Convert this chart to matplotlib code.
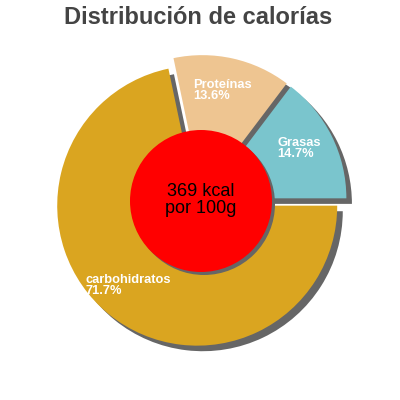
import matplotlib
matplotlib.use("Agg")
import matplotlib.pyplot as plt
from matplotlib.patches import Circle

plt.rcParams["font.family"] = ["Liberation Sans", "DejaVu Sans"]

labels = ["carbohidratos", "Proteínas", "Grasas"]
shares = [71.7, 13.6, 14.7]
colors = ["#DAA520", "#EEC591", "#7AC5CD"]
energy_kcal = 369
title = "Distribución de calorías"

# label anchor points in pixel coords (left/top of the text block)
label_pos = [(86, 274), (193, 79), (277, 137)]

W = H = 400
fig = plt.figure(figsize=(4, 4), dpi=100)
ax = fig.add_axes([0, 0, 1, 1])

cx, cy, r = 201, H - 201, 140
ax.pie(shares, colors=colors, radius=r, center=(cx, cy),
       startangle=0, counterclock=False,
       explode=[6] * len(shares),
       shadow={"ox": 4, "oy": -4, "facecolor": "#666666",
               "edgecolor": "none", "alpha": 1},
       wedgeprops={"linewidth": 0}, frame=True)
ax.set_xlim(0, W)
ax.set_ylim(0, H)
ax.set_aspect("equal")
ax.axis("off")

# centre disc with shadow
ax.add_patch(Circle((cx + 3, cy - 3), 71, facecolor="#666666", lw=0, zorder=3))
ax.add_patch(Circle((cx, cy), 71, facecolor="#FF0000", lw=0, zorder=4))
ax.text(cx, cy + 1, f"{energy_kcal} kcal\npor 100g", ha="center", va="center",
        fontsize=13, color="black", zorder=5, linespacing=1.0)

for lab, val, (x, y) in zip(labels, shares, label_pos):
    ax.text(x, H - y, f"{lab}\n{val:.1f}%", ha="left", va="top",
            fontsize=9.3, fontweight="bold", color="white", zorder=5,
            linespacing=0.9)

ax.text(198, H - 17, title, ha="center", va="center", fontsize=17,
        fontweight="bold", color="#444444")

fig.savefig("out.png", dpi=100)
